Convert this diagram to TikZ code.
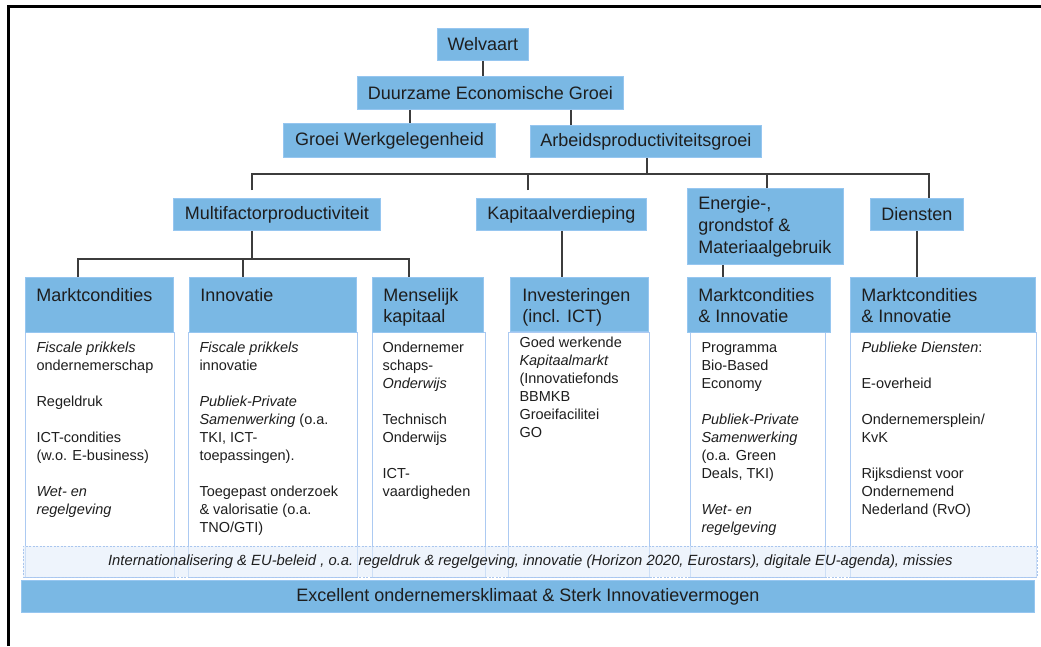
\documentclass[tikz,border=0pt]{standalone}
\usepackage{fontspec}
\setmainfont{Liberation Sans}
\definecolor{hdrblue}{RGB}{122,184,228}
\definecolor{hdrborder}{RGB}{150,198,240}
\definecolor{bodyborder}{RGB}{172,202,242}
\definecolor{bandfill}{RGB}{228,238,250}
\definecolor{bandborder}{RGB}{170,198,238}
\definecolor{linecol}{RGB}{60,60,60}
\definecolor{txt}{RGB}{30,30,30}
\newcommand{\cellbox}[4]{\parbox[c][#2][t]{#1}{\raggedright\vspace*{#3}\strut#4}}
\tikzset{
  lvl/.style={draw=hdrborder, line width=0.8pt, fill=hdrblue, inner sep=0pt, text=txt,
    font=\fontsize{18}{21}\selectfont, anchor=north west},
  bodybox/.style={draw=bodyborder, line width=1pt, fill=white, inner sep=0pt, text=txt,
    font=\fontsize{14.5}{18}\selectfont, anchor=north west},
  conn/.style={draw=linecol, line width=1.5pt},
}
\begin{document}
\begin{tikzpicture}[x=1pt,y=-1pt]
\useasboundingbox (0,0) rectangle (1041,646);
\fill[white] (0,0) rectangle (1041,646);
\draw[line width=3pt] (8.5,646) -- (8.5,6.5) -- (1041,6.5);

\coordinate (bus) at (0,174);
\coordinate (bus2) at (0,259);

% top levels
\node (welv) [lvl, minimum width=91, minimum height=32] at (437,28) {Welvaart};
\node (duur) [lvl, minimum width=266, minimum height=33] at (357,76) {Duurzame Economische Groei};
\node (gw) [lvl, minimum width=212, minimum height=34] at (283,123) {Groei Werkgelegenheid};
\node (ap) [lvl, minimum width=231, minimum height=32] at (530,125) {Arbeidsproductiviteitsgroei};
\node (mf) [lvl, minimum width=207, minimum height=32] at (173,198) {Multifactorproductiviteit};
\node (kv) [lvl, minimum width=170, minimum height=32] at (476,198) {Kapitaalverdieping};
\node (en) [lvl, minimum width=156, minimum height=76, font=\fontsize{18}{22}\selectfont] at (687,188)
  {\cellbox{134pt}{74pt}{5.1pt}{Energie-,\\grondstof \&\\Materiaalgebruik}};
\node (di) [lvl, minimum width=93, minimum height=32] at (870,198) {Diensten};

% body boxes
\node (b1) [bodybox, minimum width=149, minimum height=245] at (25,332)
  {\cellbox{127pt}{243pt}{6.4pt}{\textit{Fiscale prikkels}\\ondernemerschap\\[18pt]Regeldruk\\[18pt]ICT-condities\\(w.o. E-business)\\[18pt]\textit{Wet- en}\\\textit{regelgeving}}};
\node (b2) [bodybox, minimum width=169, minimum height=245] at (188,332)
  {\cellbox{147pt}{243pt}{6.4pt}{\textit{Fiscale prikkels}\\innovatie\\[18pt]\textit{Publiek-Private}\\\textit{Samenwerking} (o.a.\\TKI, ICT-\\toepassingen).\\[18pt]Toegepast onderzoek\\\& valorisatie (o.a.\\TNO/GTI)}};
\node (b3) [bodybox, minimum width=113, minimum height=245] at (372,332)
  {\cellbox{93pt}{243pt}{6.4pt}{Ondernemer\\schaps-\\\textit{Onderwijs}\\[18pt]Technisch\\Onderwijs\\[18pt]ICT-\\vaardigheden}};
\node (b4) [bodybox, minimum width=141, minimum height=245] at (508,332)
  {\cellbox{119pt}{243pt}{1.4pt}{Goed werkende\\\textit{Kapitaalmarkt}\\(Innovatiefonds\\BBMKB\\Groeifacilitei\\GO}};
\node (b5) [bodybox, minimum width=135, minimum height=245] at (690,332)
  {\cellbox{113pt}{243pt}{6.4pt}{Programma\\Bio-Based\\Economy\\[18pt]\textit{Publiek-Private}\\\textit{Samenwerking}\\(o.a. Green\\Deals, TKI)\\[18pt]\textit{Wet- en}\\\textit{regelgeving}}};
\node (b6) [bodybox, minimum width=186, minimum height=245] at (850,332)
  {\cellbox{164pt}{243pt}{6.4pt}{\textit{Publieke Diensten}:\\[18pt]E-overheid\\[18pt]Ondernemersplein/\\KvK\\[18pt]Rijksdienst voor\\Ondernemend\\Nederland (RvO)}};

% header boxes
\node (h1) [lvl, minimum width=148, minimum height=55] at (25,277)
  {\cellbox{126pt}{53pt}{8.8pt}{Marktcondities}};
\node (h2) [lvl, minimum width=167, minimum height=55] at (189,277)
  {\cellbox{145pt}{53pt}{8.8pt}{Innovatie}};
\node (h3) [lvl, minimum width=111, minimum height=55] at (372,277)
  {\cellbox{89pt}{53pt}{8.8pt}{Menselijk\\kapitaal}};
\node (h4) [lvl, minimum width=138, minimum height=54] at (510,277)
  {\cellbox{114pt}{52pt}{8.8pt}{Investeringen\\(incl. ICT)}};
\node (h5) [lvl, minimum width=143, minimum height=55] at (687,277)
  {\cellbox{121pt}{53pt}{8.8pt}{Marktcondities\\\& Innovatie}};
\node (h6) [lvl, minimum width=185, minimum height=55] at (850,277)
  {\cellbox{163pt}{53pt}{8.8pt}{Marktcondities\\\& Innovatie}};

% band and bar
\node (band) [draw=bandborder, dash pattern=on 2pt off 1.5pt, line width=0.8pt, fill=bandfill,
  fill opacity=0.6, text opacity=1, text=txt, inner sep=0pt, anchor=north west,
  minimum width=1014, minimum height=31, font=\fontsize{14.8}{17}\selectfont\itshape] at (23,546)
  {Internationalisering \& EU-beleid , o.a. regeldruk \& regelgeving, innovatie (Horizon 2020, Eurostars), digitale EU-agenda), missies};
\node (bar) [lvl, minimum width=1013, minimum height=32] at (21,580)
  {Excellent ondernemersklimaat \& Sterk Innovatievermogen};

% connectors
\draw[conn] (welv.south) -- (welv.south |- duur.north);
\draw[conn] (duur.south -| 410,0) -- (gw.north -| 410,0);
\draw[conn] (duur.south -| 571,0) -- (ap.north -| 571,0);
\draw[conn] (ap.south -| 647,0) -- (bus -| 647,0);
\draw[conn] (mf.north -| 252,0) ++(0,-8) |- (bus -| 929,0) -- (di.north -| 929,0);
\draw[conn] (kv.north -| 528,0) ++(0,-8) -- (bus -| 528,0);
\draw[conn] (en.north -| 767,0) -- (bus -| 767,0);
\draw[conn] (mf.south -| 252,0) -- (bus2 -| 252,0);
\draw[conn] (h1.north -| 78,0) |- (bus2 -| 409,0) -- (h3.north -| 409,0);
\draw[conn] (h2.north -| 243,0) -- (bus2 -| 243,0);
\draw[conn] (kv.south -| 562,0) -- (h4.north -| 562,0);
\draw[conn] (en.south -| 723,0) -- (h5.north -| 723,0);
\draw[conn] (di.south) -- (di.south |- h6.north);
\end{tikzpicture}
\end{document}
